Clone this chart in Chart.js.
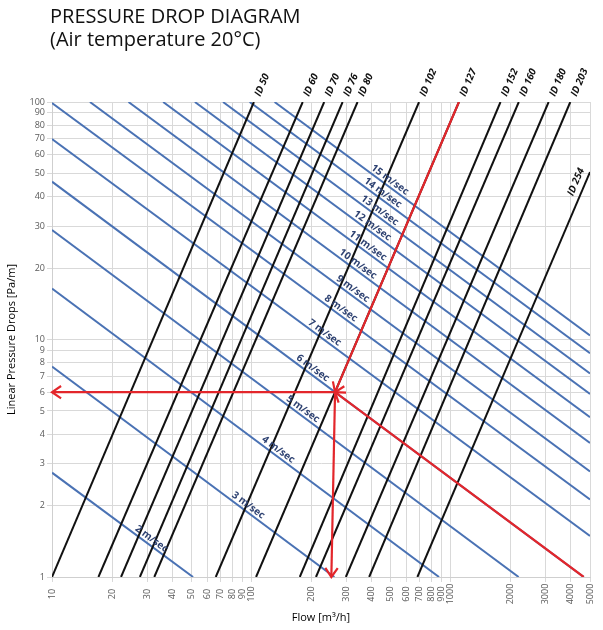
<!DOCTYPE html>
<html lang="en">
<head>
    <meta charset="UTF-8">
    <title>Pressure Drop Diagram</title>
    <script src="https://cdn.jsdelivr.net/npm/chart.js"></script>
    <style>
        body { margin: 0; background: #fff; }
        #wrap { position: relative; width: 603px; height: 630px; }
        .title { position: absolute; left: 50px; top: 4px; font: 20px "Open Sans", sans-serif; line-height: 23px; color: #111; }
    </style>
</head>
<body>
<div id="wrap">
    <canvas id="chart" width="603" height="630"></canvas>
    <div class="title">PRESSURE DROP DIAGRAM<br>(Air temperature 20°C)</div>
</div>
<script>
    // diameter lines: flow [m3/h] at 1 Pa/m, and upper end point
    const idLabels = ['ID 50', 'ID 60', 'ID 70', 'ID 76', 'ID 80', 'ID 102', 'ID 127', 'ID 152', 'ID 160', 'ID 180', 'ID 203', 'ID 254'];
    const idFlowLow = [10, 17.1, 22.2, 27.6, 32.6, 66.3, 105.6, 175, 211, 298, 390, 681];
    const idFlowTop = [103, 181, 232, 287, 341, 694, 1100, 1778, 2196, 3100, 3981, 5000];
    const idDropTop = [100, 100, 100, 100, 100, 100, 100, 100, 100, 100, 100, 50.7];

    // velocity lines: start and end points
    const velLabels = ['2 m/sec', '3 m/sec', '4 m/sec', '5 m/sec', '6 m/sec', '7 m/sec', '8 m/sec',
        '9 m/sec', '10 m/sec', '11 m/sec', '12 m/sec', '13 m/sec', '14 m/sec', '15 m/sec'];
    const velFlowStart = [10, 10, 10, 10, 10, 10, 10, 15.5, 24.2, 36.1, 52.1, 72.1, 98.1, 130.8];
    const velDropStart = [2.75, 7.7, 16.4, 28.9, 46.2, 69.8, 99, 100, 100, 100, 100, 100, 100, 100];
    const velFlowEnd = [51, 261, 874, 2193, 4650, 5000, 5000, 5000, 5000, 5000, 5000, 5000, 5000, 5000];
    const velDropEnd = [1, 1, 1, 1, 1, 1.49, 2.12, 2.78, 3.67, 4.71, 5.9, 7.2, 8.75, 10.4];

    // worked example (red arrows), each ends at the arrow tip
    const redDiameter = [[1100, 100], [263, 6]];
    const redVelocity = [[4650, 1], [263, 6]];
    const redToDrop = [[263, 6], [10, 6]];
    const redToFlow = [[263, 6], [252, 1]];

    const flowTicks = [10, 20, 30, 40, 50, 60, 70, 80, 90, 100, 200, 300, 400, 500, 600, 700, 800, 900, 1000, 2000, 3000, 4000, 5000];
    const dropTicks = [1, 2, 3, 4, 5, 6, 7, 8, 9, 10, 20, 30, 40, 50, 60, 70, 80, 90, 100];

    // where along each velocity line its label sits (flow)
    const velLabelAt = [30.3, 92.6, 131, 174, 195, 224, 270, 310, 329, 369, 389, 423, 438, 475];

    const BLUE = '#4a72b4';
    const RED = '#e3262b';
    const font = '"Open Sans", sans-serif';

    const datasets = [];
    [redDiameter, redVelocity, redToDrop, redToFlow].forEach(seg => {
        datasets.push({
            data: seg.map(p => ({x: p[0], y: p[1]})),
            borderColor: RED, borderWidth: 2.2, showLine: true, order: 0
        });
    });
    idLabels.forEach((lab, i) => {
        datasets.push({
            label: lab,
            data: [{x: idFlowLow[i], y: 1}, {x: idFlowTop[i], y: idDropTop[i]}],
            borderColor: '#111', borderWidth: 2, showLine: true, order: 1
        });
    });
    velLabels.forEach((lab, i) => {
        datasets.push({
            label: lab,
            data: [{x: velFlowStart[i], y: velDropStart[i]}, {x: velFlowEnd[i], y: velDropEnd[i]}],
            borderColor: BLUE, borderWidth: 2, showLine: true, order: 2
        });
    });

    const annotate = {
        id: 'annotate',
        afterDatasetsDraw(chart) {
            const {ctx, scales: {x, y}, chartArea} = chart;
            const px = (f, p) => [x.getPixelForValue(f), y.getPixelForValue(p)];
            ctx.save();

            // diameter labels
            ctx.font = 'italic bold 10px ' + font;
            ctx.fillStyle = '#111';
            idLabels.forEach((lab, i) => {
                const [x0, y0] = px(idFlowLow[i], 1);
                const [x1, y1] = px(idFlowTop[i], idDropTop[i]);
                const ang = Math.atan2(y1 - y0, x1 - x0);
                ctx.save();
                ctx.translate(x1, y1);
                ctx.rotate(ang);
                if (i === idLabels.length - 1) {
                    ctx.textAlign = 'right';
                    ctx.textBaseline = 'bottom';
                    ctx.fillText(lab, 0, -4);
                } else {
                    ctx.textAlign = 'left';
                    ctx.textBaseline = 'middle';
                    ctx.fillText(lab, 7, 1);
                }
                ctx.restore();
            });

            // velocity labels
            ctx.font = 'bold 10px ' + font;
            ctx.fillStyle = '#2e4272';
            velLabels.forEach((lab, i) => {
                const [x0, y0] = px(velFlowStart[i], velDropStart[i]);
                const [x1, y1] = px(velFlowEnd[i], velDropEnd[i]);
                const ang = Math.atan2(y1 - y0, x1 - x0);
                const lx = x.getPixelForValue(velLabelAt[i]);
                const ly = y0 + (lx - x0) * (y1 - y0) / (x1 - x0);
                ctx.save();
                ctx.translate(lx, ly);
                ctx.rotate(ang);
                ctx.textAlign = 'center';
                ctx.textBaseline = 'bottom';
                ctx.fillText(lab, 0, -1);
                ctx.restore();
            });

            // arrow heads at the end of each red segment
            ctx.strokeStyle = RED;
            ctx.lineWidth = 2.2;
            [redDiameter, redVelocity, redToDrop, redToFlow].forEach(seg => {
                const [ax, ay] = px(seg[0][0], seg[0][1]);
                const [bx, by] = px(seg[1][0], seg[1][1]);
                const ang = Math.atan2(by - ay, bx - ax);
                ctx.beginPath();
                ctx.moveTo(bx - 11 * Math.cos(ang - 0.6), by - 11 * Math.sin(ang - 0.6));
                ctx.lineTo(bx, by);
                ctx.lineTo(bx - 11 * Math.cos(ang + 0.6), by - 11 * Math.sin(ang + 0.6));
                ctx.stroke();
            });

            // rotated flow tick labels
            ctx.font = '9px ' + font;
            ctx.fillStyle = '#595959';
            flowTicks.forEach(v => {
                ctx.save();
                ctx.translate(x.getPixelForValue(v), chartArea.bottom + 17);
                ctx.rotate(-Math.PI / 2);
                ctx.textAlign = 'center';
                ctx.textBaseline = 'middle';
                ctx.fillText(String(v), 0, 0);
                ctx.restore();
            });
            ctx.restore();
        }
    };

    new Chart(document.getElementById('chart'), {
        type: 'scatter',
        data: {datasets: datasets},
        options: {
            responsive: false,
            animation: false,
            layout: {padding: {top: 102, right: 13, left: 0, bottom: 0}},
            plugins: {legend: {display: false}, tooltip: {enabled: false}},
            elements: {point: {radius: 0, hoverRadius: 0}},
            scales: {
                x: {
                    type: 'logarithmic', min: 10, max: 5000,
                    afterBuildTicks: s => { s.ticks = flowTicks.map(v => ({value: v})); },
                    afterFit: s => { s.height = 53; },
                    ticks: {display: false, autoSkip: false},
                    grid: {color: '#d9d9d9', tickLength: 5},
                    border: {color: '#cfcfcf'},
                    title: {display: true, text: 'Flow [m³/h]', color: '#000', font: {family: font, size: 11}, padding: {top: 0, bottom: 6}}
                },
                y: {
                    type: 'logarithmic', min: 1, max: 100,
                    afterBuildTicks: s => { s.ticks = dropTicks.map(v => ({value: v})); },
                    afterFit: s => { s.width = 52; },
                    ticks: {autoSkip: false, padding: 2, color: '#595959', font: {family: font, size: 9}, callback: v => String(v)},
                    grid: {color: '#d9d9d9', tickLength: 5},
                    border: {color: '#cfcfcf'},
                    title: {display: true, text: 'Linear Pressure Drops [Pa/m]', color: '#000', font: {family: font, size: 11}, padding: {top: 5, bottom: 0}}
                }
            }
        },
        plugins: [annotate]
    });
</script>
</body>
</html>
